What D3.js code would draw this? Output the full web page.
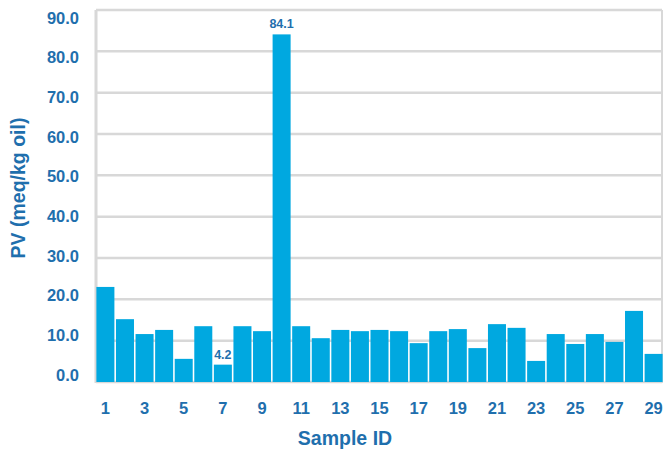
<!DOCTYPE html>
<html><head><meta charset="utf-8">
<script src="https://cdn.jsdelivr.net/npm/d3@7"></script>
<style>body{margin:0;background:#fff}svg{display:block}</style>
</head><body><svg id="c" width="663" height="449"></svg>
<script>
const categories = d3.range(1, 30).map(String);
const values = [23.0,15.2,11.6,12.6,5.6,13.5,4.2,13.5,12.3,84.1,13.5,10.6,12.6,12.3,12.6,12.3,9.4,12.3,12.8,8.2,14.0,13.1,5.1,11.6,9.2,11.6,9.7,17.2,6.8];
const yTicks = [0,10,20,30,40,50,60,70,80,90];
const xTickLabels = categories.filter((d,i)=>i%2===0);
const labelled = ["7","10"];

const svg = d3.select("#c");
const font = "'Liberation Sans',Arial,sans-serif";
const blue = "#1f6fad", barCol = "#00a8e0", grid = "#d8d8d8";
const L = 96, R = 663, T = 10, B = 382;
const x = d3.scaleBand().domain(categories).range([L, R]).paddingInner(0.08).paddingOuter(0.02);
const y = d3.scaleLinear().domain([0, 90]).range([B, T]);
const yLab = d3.scaleLinear().domain([0, 90]).range([375, 18]);

// gridlines
svg.append("g").selectAll("line").data(yTicks).join("line")
  .attr("x1", L).attr("x2", R - 1).attr("y1", d => y(d)).attr("y2", d => y(d))
  .attr("stroke", grid).attr("stroke-width", 2.5);
// left/right border
svg.append("line").attr("x1", L).attr("x2", L).attr("y1", T).attr("y2", B + 1).attr("stroke", grid).attr("stroke-width", 3);
svg.append("line").attr("x1", R - 1).attr("x2", R - 1).attr("y1", T).attr("y2", B + 1).attr("stroke", grid).attr("stroke-width", 2);

// bars
svg.append("g").selectAll("rect").data(values).join("rect")
  .attr("x", (d,i) => x(categories[i]))
  .attr("width", x.bandwidth())
  .attr("y", d => y(d))
  .attr("height", d => y(0) - y(d))
  .attr("fill", barCol);

// value labels
svg.append("g").selectAll("text").data(labelled).join("text")
  .attr("x", d => x(d) + x.bandwidth()/2)
  .attr("y", d => y(values[categories.indexOf(d)]) - 6)
  .attr("text-anchor", "middle")
  .attr("font-family", font).attr("font-weight", "bold").attr("font-size", 12.5)
  .attr("fill", blue)
  .text(d => values[categories.indexOf(d)].toFixed(1));

// y tick labels
svg.append("g").selectAll("text").data(yTicks).join("text")
  .attr("x", 79).attr("y", d => yLab(d)).attr("dy", "0.35em")
  .attr("text-anchor", "end")
  .attr("font-family", font).attr("font-weight", "bold").attr("font-size", 16.5)
  .attr("fill", blue)
  .text(d => d.toFixed(1));

// x tick labels
svg.append("g").selectAll("text").data(xTickLabels).join("text")
  .attr("x", d => x(d) + x.bandwidth()/2).attr("y", 408).attr("dy", "0.35em")
  .attr("text-anchor", "middle")
  .attr("font-family", font).attr("font-weight", "bold").attr("font-size", 16.5)
  .attr("fill", blue)
  .text(d => d);

// axis titles
svg.append("text").attr("x", 345).attr("y", 445)
  .attr("text-anchor", "middle")
  .attr("font-family", font).attr("font-weight", "bold").attr("font-size", 19.5)
  .attr("fill", blue).text("Sample ID");
svg.append("text").attr("transform", "translate(25,188) rotate(-90)")
  .attr("text-anchor", "middle")
  .attr("font-family", font).attr("font-weight", "bold").attr("font-size", 19.5)
  .attr("fill", blue).text("PV (meq/kg oil)");
</script></body></html>
